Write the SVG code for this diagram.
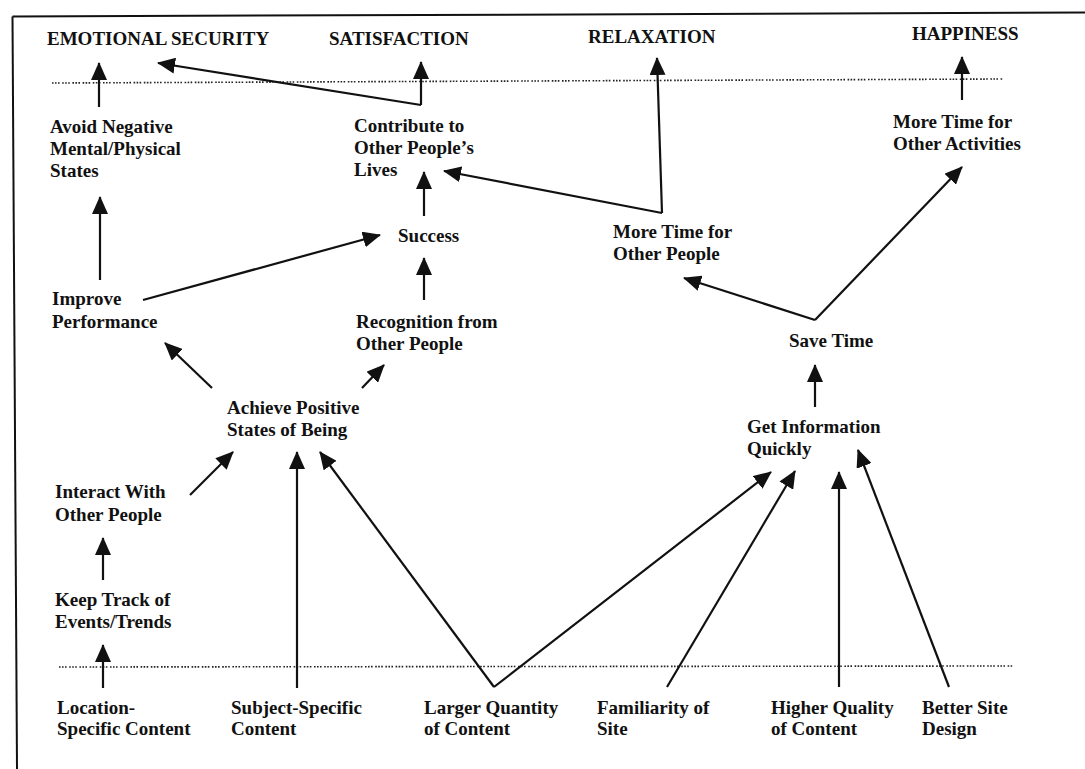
<svg xmlns="http://www.w3.org/2000/svg" width="1085" height="769" viewBox="0 0 1085 769">
<defs>
<style>
text{font-family:"Liberation Serif","Times New Roman",serif;font-weight:bold;font-size:19px;fill:#111}
.c{fill:none;stroke:#111;stroke-width:2.2}
.dot{fill:none;stroke:#222;stroke-width:1.6;stroke-dasharray:1.6 1.4 1.6 1.4 1.6 2.6}
.frame{fill:none;stroke:#111;stroke-width:2}
</style>
<marker id="ah" viewBox="0 0 18 16" refX="17" refY="8" markerWidth="18" markerHeight="16" markerUnits="userSpaceOnUse" orient="auto">
<path d="M0,0 L18,8 L0,16 z" fill="#111"/>
</marker>
</defs>
<rect width="1085" height="769" fill="#fff"/>
<g id="frame">
<path class="frame" d="M12.5,16.5 L1085,12.5"/>
<path class="frame" d="M12.5,16.5 L17,769"/>
<path class="dot" d="M52,83 L1003,79"/>
<path class="dot" d="M59,667 L1013,666"/>
</g>
<g id="connectors">
<path class="c" marker-end="url(#ah)" d="M99,107 L99,63"/>
<path class="c" marker-end="url(#ah)" d="M421,105 L421,62"/>
<path class="c" marker-end="url(#ah)" d="M421,105 L158,63"/>
<path class="c" marker-end="url(#ah)" d="M662,213 L657,58"/>
<path class="c" marker-end="url(#ah)" d="M662,213 L444,171"/>
<path class="c" marker-end="url(#ah)" d="M962,100 L962,57"/>
<path class="c" marker-end="url(#ah)" d="M424,216 L424,172"/>
<path class="c" marker-end="url(#ah)" d="M100,280 L100,197"/>
<path class="c" marker-end="url(#ah)" d="M143,300 L380,235"/>
<path class="c" marker-end="url(#ah)" d="M424,300 L424,258"/>
<path class="c" marker-end="url(#ah)" d="M815,320 L962,167"/>
<path class="c" marker-end="url(#ah)" d="M815,320 L684,278"/>
<path class="c" marker-end="url(#ah)" d="M815,407 L815,365"/>
<path class="c" marker-end="url(#ah)" d="M212,388 L165,343"/>
<path class="c" marker-end="url(#ah)" d="M362,388 L384,365"/>
<path class="c" marker-end="url(#ah)" d="M190,495 L233,452"/>
<path class="c" marker-end="url(#ah)" d="M297,688 L297,452"/>
<path class="c" marker-end="url(#ah)" d="M494,687 L320,452"/>
<path class="c" marker-end="url(#ah)" d="M494,687 L771,472"/>
<path class="c" marker-end="url(#ah)" d="M667,687 L795,471"/>
<path class="c" marker-end="url(#ah)" d="M839,687 L839,472"/>
<path class="c" marker-end="url(#ah)" d="M949,687 L858,450"/>
<path class="c" marker-end="url(#ah)" d="M103,580 L103,538"/>
<path class="c" marker-end="url(#ah)" d="M103,688 L103,645"/>
</g>
<g id="emotional-security"><text x="47" y="45">EMOTIONAL SECURITY</text></g>
<g id="satisfaction"><text x="329" y="45">SATISFACTION</text></g>
<g id="relaxation"><text x="588" y="43">RELAXATION</text></g>
<g id="happiness"><text x="912" y="40">HAPPINESS</text></g>
<g id="avoid-negative"><text x="50" y="133">Avoid Negative</text><text x="50" y="155">Mental/Physical</text><text x="50" y="177">States</text></g>
<g id="contribute"><text x="354" y="132">Contribute to</text><text x="354" y="154">Other People’s</text><text x="354" y="176">Lives</text></g>
<g id="more-time-activities"><text x="893" y="128">More Time for</text><text x="893" y="150">Other Activities</text></g>
<g id="success"><text x="398" y="242">Success</text></g>
<g id="more-time-people"><text x="613" y="238">More Time for</text><text x="613" y="260">Other People</text></g>
<g id="improve-performance"><text x="52" y="305">Improve</text><text x="52" y="328">Performance</text></g>
<g id="recognition"><text x="356" y="328">Recognition from</text><text x="356" y="350">Other People</text></g>
<g id="save-time"><text x="789" y="347">Save Time</text></g>
<g id="achieve-positive"><text x="227" y="414">Achieve Positive</text><text x="227" y="436">States of Being</text></g>
<g id="get-information"><text x="747" y="433">Get Information</text><text x="747" y="455">Quickly</text></g>
<g id="interact"><text x="55" y="498">Interact With</text><text x="55" y="521">Other People</text></g>
<g id="keep-track"><text x="55" y="606">Keep Track of</text><text x="55" y="628">Events/Trends</text></g>
<g id="location-specific"><text x="57" y="714">Location-</text><text x="57" y="735">Specific Content</text></g>
<g id="subject-specific"><text x="231" y="714">Subject-Specific</text><text x="231" y="735">Content</text></g>
<g id="larger-quantity"><text x="424" y="714">Larger Quantity</text><text x="424" y="735">of Content</text></g>
<g id="familiarity"><text x="597" y="714">Familiarity of</text><text x="597" y="735">Site</text></g>
<g id="higher-quality"><text x="771" y="714">Higher Quality</text><text x="771" y="735">of Content</text></g>
<g id="better-design"><text x="922" y="714">Better Site</text><text x="922" y="735">Design</text></g>
</svg>
